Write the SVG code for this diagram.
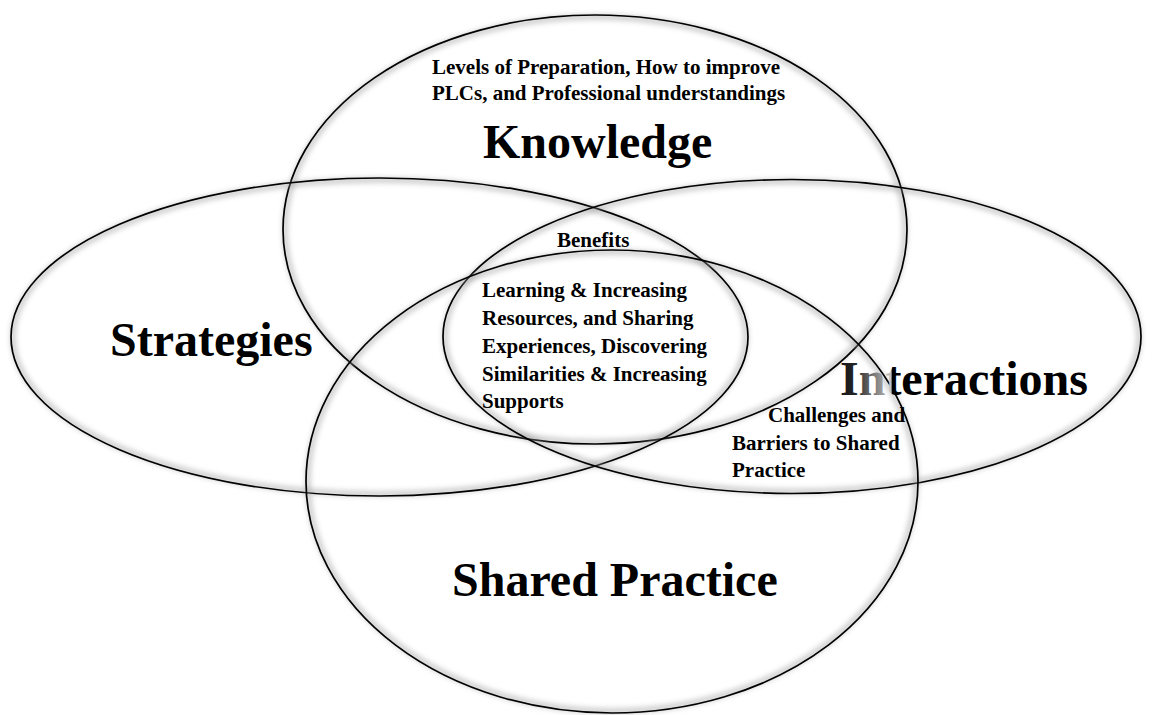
<svg xmlns="http://www.w3.org/2000/svg" width="1154" height="715" viewBox="0 0 1154 715">
  <style>
    .glow { fill: none; stroke: #9a9a9a; stroke-width: 6; opacity: 0.45; filter: url(#soft); }
    .edge { fill: none; stroke: #000; stroke-width: 1.7; }
    .big { font-family: "Liberation Serif", "Times New Roman", serif; font-weight: bold; font-size: 48px; fill: #000; }
    .small { font-family: "Liberation Serif", "Times New Roman", serif; font-weight: bold; font-size: 21px; fill: #000; }
  </style>
  <defs>
    <filter id="soft" x="-10%" y="-10%" width="120%" height="120%">
      <feGaussianBlur stdDeviation="2.5"/>
    </filter>
    <linearGradient id="intGrad" gradientUnits="userSpaceOnUse" x1="840" y1="0" x2="1083" y2="0">
      <stop offset="0" stop-color="#151515"/>
      <stop offset="0.062" stop-color="#252525"/>
      <stop offset="0.185" stop-color="#a8a8a8"/>
      <stop offset="0.21" stop-color="#c8c8c8"/>
      <stop offset="0.215" stop-color="#000"/>
      <stop offset="1" stop-color="#000"/>
    </linearGradient>
  </defs>
  <rect width="1154" height="715" fill="#fff"/>

  <g id="shapes">
    <g id="knowledge-shape">
      <ellipse class="glow" cx="595" cy="229.5" rx="310" ry="212.5"/>
      <ellipse class="edge" cx="595" cy="229.5" rx="312" ry="214.5"/>
    </g>
    <g id="strategies-shape">
      <ellipse class="glow" cx="379.5" cy="337" rx="366.5" ry="157"/>
      <ellipse class="edge" cx="379.5" cy="337" rx="368.5" ry="159"/>
    </g>
    <g id="interactions-shape">
      <ellipse class="glow" cx="792" cy="336.5" rx="347" ry="155"/>
      <ellipse class="edge" cx="792" cy="336.5" rx="349" ry="157"/>
    </g>
    <g id="shared-practice-shape">
      <ellipse class="glow" cx="612" cy="481.5" rx="304" ry="229.5"/>
      <ellipse class="edge" cx="612" cy="481.5" rx="306" ry="231.5"/>
    </g>
  </g>

  <g id="connectors"></g>

  <g id="knowledge">
    <text class="small" x="432" y="74">Levels of Preparation, How to improve</text>
    <text class="small" x="432" y="100">PLCs, and Professional understandings</text>
    <text class="big" x="483" y="158">Knowledge</text>
  </g>

  <g id="strategies">
    <text class="big" x="110" y="356">Strategies</text>
  </g>

  <g id="interactions">
    <text class="big" x="840" y="395" fill="url(#intGrad)" style="fill:url(#intGrad)">Interactions</text>
  </g>

  <g id="shared-practice">
    <text class="big" x="452" y="596">Shared Practice</text>
  </g>

  <g id="benefits">
    <text class="small" x="557" y="247">Benefits</text>
    <text class="small" x="482" y="297">Learning &amp; Increasing</text>
    <text class="small" x="482" y="325">Resources, and Sharing</text>
    <text class="small" x="482" y="353">Experiences, Discovering</text>
    <text class="small" x="482" y="381">Similarities &amp; Increasing</text>
    <text class="small" x="482" y="408">Supports</text>
  </g>

  <g id="challenges">
    <text class="small" x="768" y="422">Challenges and</text>
    <text class="small" x="732" y="450">Barriers to Shared</text>
    <text class="small" x="732" y="477">Practice</text>
  </g>
</svg>
